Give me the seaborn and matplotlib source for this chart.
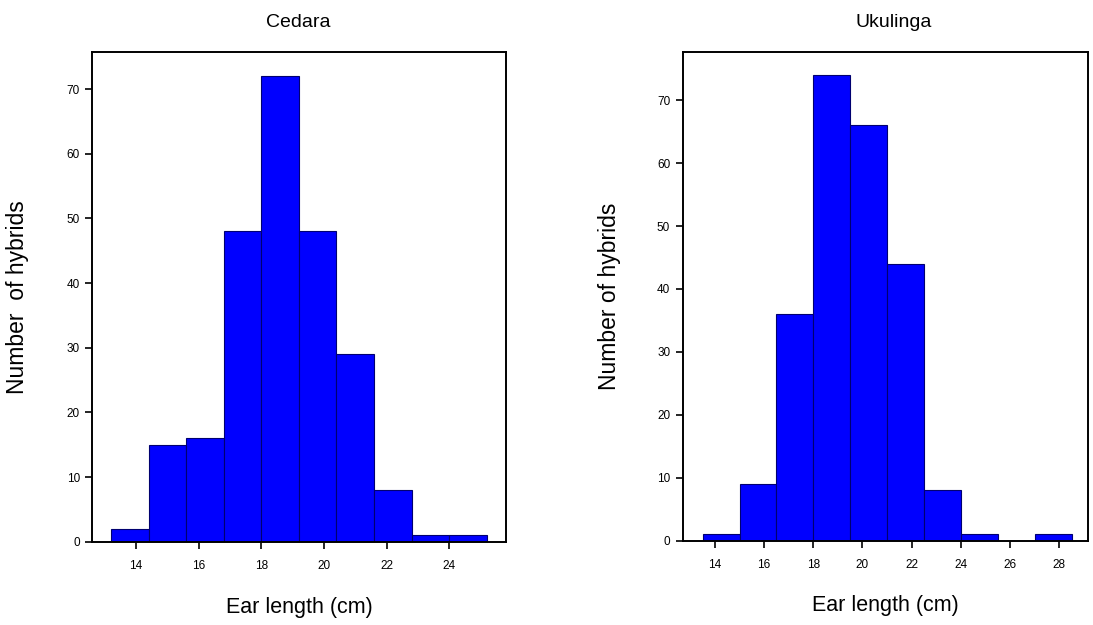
import numpy as np
import pandas as pd
import seaborn as sns
import matplotlib
matplotlib.use("Agg")
import matplotlib.pyplot as plt

# bin edges and counts
cedara_edges = [13.2, 14.4, 15.6, 16.8, 18.0, 19.2, 20.4, 21.6, 22.8, 24.0, 25.2]
cedara_counts = [2, 15, 16, 48, 72, 48, 29, 8, 1, 1]

ukulinga_edges = [13.5, 15.0, 16.5, 18.0, 19.5, 21.0, 22.5, 24.0, 25.5, 27.0, 28.5]
ukulinga_counts = [1, 9, 36, 74, 66, 44, 8, 1, 0, 1]

cedara_xticks = [14, 16, 18, 20, 22, 24]
ukulinga_xticks = [14, 16, 18, 20, 22, 24, 26, 28]
yticks = [0, 10, 20, 30, 40, 50, 60, 70]

sns.set_style("ticks")
plt.rcParams["font.family"] = ["Liberation Sans", "DejaVu Sans"]
plt.rcParams["text.color"] = "black"
plt.rcParams["axes.labelcolor"] = "black"
plt.rcParams["xtick.color"] = "black"
plt.rcParams["ytick.color"] = "black"

fig = plt.figure(figsize=(10.93, 6.25), dpi=100)
ax1 = fig.add_axes([0.0845, 0.1333, 0.3785, 0.7840])
ax2 = fig.add_axes([0.6246, 0.1349, 0.3711, 0.7824])


def draw_hist(ax, edges, counts, title, ylabel, xticks, xlim, ylim, title_x):
    e = np.array(edges)
    df = pd.DataFrame({"length": (e[:-1] + e[1:]) / 2, "n": counts})
    sns.histplot(data=df, x="length", weights="n", bins=list(edges), ax=ax,
                 color="#0000ff", alpha=1, edgecolor="#000070", linewidth=0.8)
    ax.set_xlim(xlim)
    ax.set_ylim(ylim)
    ax.set_xticks(xticks)
    ax.set_yticks(yticks)
    for s in ax.spines.values():
        s.set_visible(True)
        s.set_linewidth(1.4)
        s.set_color("black")
    ax.tick_params(axis="both", direction="out", length=5, width=1.2,
                   labelsize=8.5)
    ax.tick_params(axis="x", pad=8)
    ax.tick_params(axis="y", pad=4)
    ax.set_title(title, fontsize=14, x=title_x, y=1.05, pad=0)
    ax.set_xlabel("Ear length (cm)", fontsize=15.5)
    ax.set_ylabel(ylabel, fontsize=16.5)
    ax.xaxis.set_label_coords(0.5, -0.112)
    ax.yaxis.set_label_coords(-0.152, 0.5)


draw_hist(ax1, cedara_edges, cedara_counts, "Cedara", "Number  of hybrids",
          cedara_xticks, (12.6, 25.82), (0, 75.8), 0.497)
draw_hist(ax2, ukulinga_edges, ukulinga_counts, "Ukulinga", "Number of hybrids",
          ukulinga_xticks, (12.69, 29.18), (0, 77.7), 0.52)

fig.savefig("out.png", dpi=100)
